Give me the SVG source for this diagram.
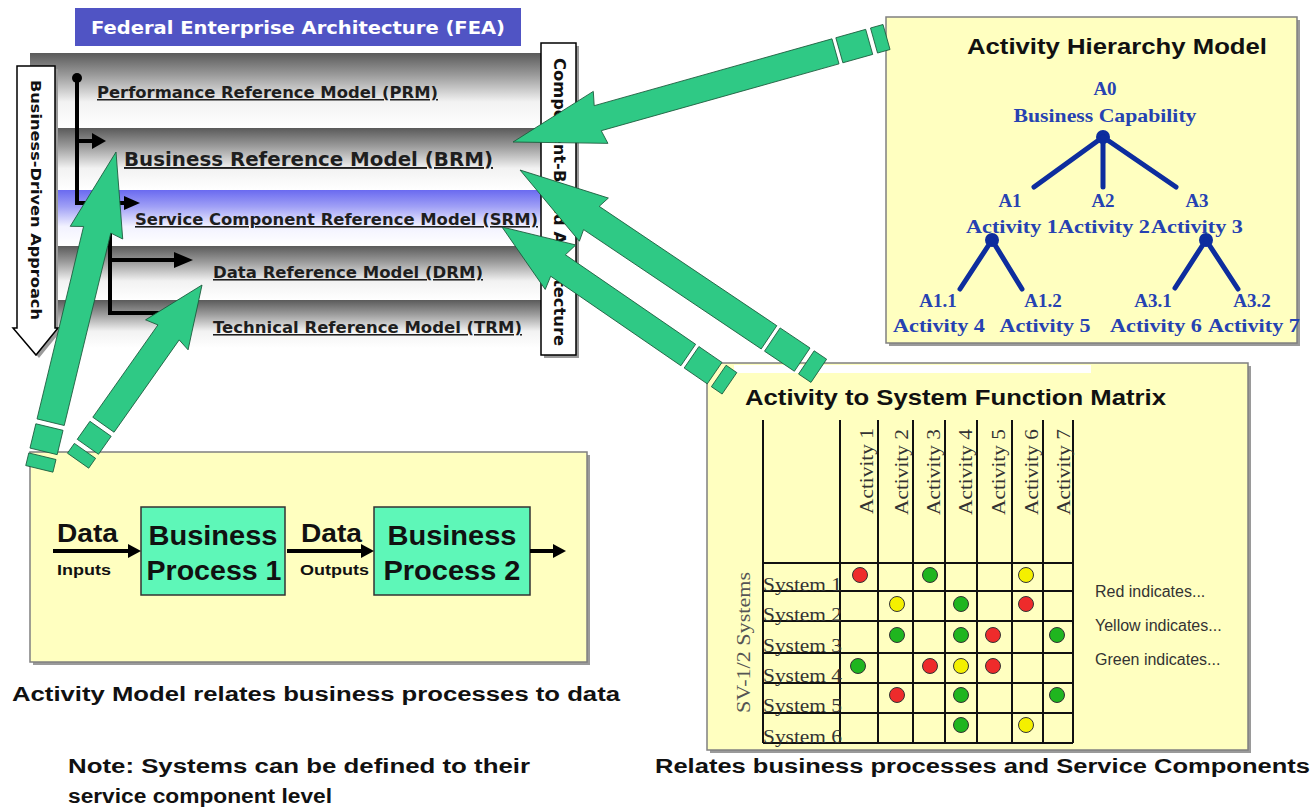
<svg xmlns="http://www.w3.org/2000/svg" width="1312" height="810" viewBox="0 0 1312 810">
<defs>
  <linearGradient id="gGray" x1="0" y1="0" x2="0" y2="1">
    <stop offset="0" stop-color="#5a5a5a"/>
    <stop offset="0.3" stop-color="#9c9c9c"/>
    <stop offset="0.65" stop-color="#f2f2f2"/>
    <stop offset="1" stop-color="#ffffff"/>
  </linearGradient>
  <linearGradient id="gBlue" x1="0" y1="0" x2="0" y2="1">
    <stop offset="0" stop-color="#6a6af0"/>
    <stop offset="0.3" stop-color="#a0a0f6"/>
    <stop offset="0.65" stop-color="#f2f2ff"/>
    <stop offset="1" stop-color="#ffffff"/>
  </linearGradient>
</defs>
<style>
  .lbl{font-family:"DejaVu Sans",Verdana,sans-serif;font-weight:bold;fill:#1e1e1e;text-decoration:underline}
  .vt{font-family:"DejaVu Sans",Verdana,sans-serif;font-weight:bold;fill:#111}
  .ab{font-family:"Liberation Sans",Arial,sans-serif;font-weight:bold;fill:#111}
  .tree{font-family:"Liberation Serif","Times New Roman",serif;font-weight:bold;fill:#2642b2;text-anchor:middle;font-size:19px}
  .ser{font-family:"Liberation Serif","Times New Roman",serif;fill:#333;font-size:18px}
  .leg{font-family:"Liberation Sans",Arial,sans-serif;fill:#333;font-size:16px}
  .grn{fill:#2fc985;stroke:#1b5a3c;stroke-width:0.8}
  .blk{stroke:#000;stroke-width:4;fill:none}
  .tl{stroke:#0d2d9e;stroke-width:5;stroke-linecap:round}
  .grid{stroke:#111;stroke-width:2;fill:none}
  .yel{fill:#ffffc0;stroke:#808080;stroke-width:1.5}
  .shd{fill:#9a9a9a}
  .bp{fill:#5ef7b8;stroke:#333;stroke-width:1.5}
  .dr{fill:#ee2b2b;stroke:#333;stroke-width:1}
  .dy{fill:#f4f000;stroke:#333;stroke-width:1}
  .dg{fill:#1fb51f;stroke:#333;stroke-width:1}
</style>
<rect width="1312" height="810" fill="#ffffff"/>

<!-- FEA stack -->
<g id="fea">
  <rect x="75" y="8" width="446" height="38" fill="#5054c4"/>
  <text class="vt" x="91" y="34" font-size="17" style="fill:#ffffff" textLength="414" lengthAdjust="spacingAndGlyphs">Federal Enterprise Architecture (FEA)</text>
  <rect x="30" y="53" width="512" height="75" fill="url(#gGray)"/>
  <rect x="30" y="128" width="512" height="62" fill="url(#gGray)"/>
  <rect x="30" y="190" width="512" height="56" fill="url(#gBlue)"/>
  <rect x="30" y="246" width="512" height="54" fill="url(#gGray)"/>
  <rect x="30" y="300" width="512" height="48" fill="url(#gGray)"/>
</g>
<g id="prm"><text class="lbl" x="97" y="98" font-size="15" textLength="341" lengthAdjust="spacingAndGlyphs">Performance Reference Model (PRM)</text></g>
<g id="brm"><text class="lbl" x="124" y="166" font-size="19" textLength="369" lengthAdjust="spacingAndGlyphs">Business Reference Model (BRM)</text></g>
<g id="srm"><text class="lbl" x="135" y="225" font-size="16" textLength="403" lengthAdjust="spacingAndGlyphs">Service Component Reference Model (SRM)</text></g>
<g id="drm"><text class="lbl" x="213" y="278" font-size="15.5" textLength="270" lengthAdjust="spacingAndGlyphs">Data Reference Model (DRM)</text></g>
<g id="trm"><text class="lbl" x="213" y="333" font-size="15.5" textLength="309" lengthAdjust="spacingAndGlyphs">Technical Reference Model (TRM)</text></g>

<g id="business-driven">
  <path d="M20,69 H58 V331 H61 L39,358 L16,331 H20 Z" class="shd"/>
  <path d="M17,66 H55 V328 H58 L36,355 L13,328 H17 Z" fill="#ffffff" stroke="#000" stroke-width="1.5"/>
  <text class="vt" transform="translate(31,80) rotate(90)" font-size="14.5" textLength="240" lengthAdjust="spacingAndGlyphs">Business-Driven Approach</text>
</g>
<g id="component-based">
  <rect x="544" y="46" width="35" height="312" class="shd"/>
  <rect x="541" y="43" width="35" height="312" fill="#ffffff" stroke="#000" stroke-width="1.5"/>
  <text class="vt" transform="translate(554,58) rotate(90)" font-size="15" textLength="288" lengthAdjust="spacingAndGlyphs">Component-Based Architecture</text>
</g>

<!-- Activity Hierarchy Model -->
<g id="hierarchy">
  <rect x="889" y="20" width="411" height="326" class="shd"/>
  <rect x="886" y="17" width="411" height="326" class="yel"/>
  <text class="ab" x="967" y="54" font-size="22" textLength="300" lengthAdjust="spacingAndGlyphs">Activity Hierarchy Model</text>
  <text class="tree" x="1105" y="95">A0</text>
  <text class="tree" x="1105" y="122" textLength="183" lengthAdjust="spacingAndGlyphs">Business Capability</text>
  <circle cx="1103" cy="137" r="7" fill="#0d2d9e"/>
  <line class="tl" x1="1103" y1="137" x2="1034" y2="187"/>
  <line class="tl" x1="1103" y1="137" x2="1103" y2="187"/>
  <line class="tl" x1="1103" y1="137" x2="1176" y2="187"/>
  <text class="tree" x="1010" y="207">A1</text>
  <text class="tree" x="1103" y="207">A2</text>
  <text class="tree" x="1197" y="207">A3</text>
  <text class="tree" x="1012" y="233" textLength="92" lengthAdjust="spacingAndGlyphs">Activity 1</text>
  <text class="tree" x="1104" y="233" textLength="92" lengthAdjust="spacingAndGlyphs">Activity 2</text>
  <text class="tree" x="1197" y="233" textLength="92" lengthAdjust="spacingAndGlyphs">Activity 3</text>
  <circle cx="992" cy="240" r="7" fill="#0d2d9e"/>
  <circle cx="1206" cy="240" r="7" fill="#0d2d9e"/>
  <line class="tl" x1="992" y1="240" x2="960" y2="289"/>
  <line class="tl" x1="992" y1="240" x2="1022" y2="289"/>
  <line class="tl" x1="1206" y1="240" x2="1175" y2="288"/>
  <line class="tl" x1="1206" y1="240" x2="1238" y2="289"/>
  <text class="tree" x="938" y="307">A1.1</text>
  <text class="tree" x="1043" y="307">A1.2</text>
  <text class="tree" x="1153" y="307">A3.1</text>
  <text class="tree" x="1252" y="307">A3.2</text>
  <text class="tree" x="939" y="332" textLength="92" lengthAdjust="spacingAndGlyphs">Activity 4</text>
  <text class="tree" x="1045" y="332" textLength="91" lengthAdjust="spacingAndGlyphs">Activity 5</text>
  <text class="tree" x="1156" y="332" textLength="92" lengthAdjust="spacingAndGlyphs">Activity 6</text>
  <text class="tree" x="1254" y="332" textLength="92" lengthAdjust="spacingAndGlyphs">Activity 7</text>
</g>

<!-- Activity to System Function Matrix -->
<g id="matrix">
  <rect x="710" y="366" width="541" height="387" class="shd"/>
  <rect x="707" y="363" width="541" height="387" class="yel"/>
  <rect x="734" y="365" width="357" height="8" fill="#ffffff"/>
  <text class="ab" x="745" y="405" font-size="22" textLength="421" lengthAdjust="spacingAndGlyphs">Activity to System Function Matrix</text>
  <path class="grid" d="M763,420V743 M840,420V743 M878,420V743 M913,420V743 M945,420V743 M977,420V743 M1012,420V743 M1043,420V743 M1073,420V743 M763,563H1073 M763,591H1073 M763,621H1073 M763,653H1073 M763,683H1073 M763,713H1073 M763,743H1073"/>
  <text class="ser" transform="translate(873,514) rotate(-90)" textLength="86" lengthAdjust="spacingAndGlyphs">Activity 1</text>
  <text class="ser" transform="translate(908,515) rotate(-90)" textLength="86" lengthAdjust="spacingAndGlyphs">Activity 2</text>
  <text class="ser" transform="translate(940,515) rotate(-90)" textLength="86" lengthAdjust="spacingAndGlyphs">Activity 3</text>
  <text class="ser" transform="translate(972,515) rotate(-90)" textLength="86" lengthAdjust="spacingAndGlyphs">Activity 4</text>
  <text class="ser" transform="translate(1005,515) rotate(-90)" textLength="86" lengthAdjust="spacingAndGlyphs">Activity 5</text>
  <text class="ser" transform="translate(1038,515) rotate(-90)" textLength="86" lengthAdjust="spacingAndGlyphs">Activity 6</text>
  <text class="ser" transform="translate(1070,515) rotate(-90)" textLength="86" lengthAdjust="spacingAndGlyphs">Activity 7</text>
  <text class="ser" transform="translate(750,713) rotate(-90)" style="fill:#555" textLength="141" lengthAdjust="spacingAndGlyphs">SV-1/2 Systems</text>
  <text class="ser" x="763" y="591" textLength="79" lengthAdjust="spacingAndGlyphs">System 1</text>
  <text class="ser" x="763" y="621" textLength="79" lengthAdjust="spacingAndGlyphs">System 2</text>
  <text class="ser" x="763" y="652" textLength="79" lengthAdjust="spacingAndGlyphs">System 3</text>
  <text class="ser" x="763" y="682" textLength="79" lengthAdjust="spacingAndGlyphs">System 4</text>
  <text class="ser" x="763" y="712" textLength="79" lengthAdjust="spacingAndGlyphs">System 5</text>
  <text class="ser" x="763" y="743" textLength="79" lengthAdjust="spacingAndGlyphs">System 6</text>
  <circle class="dr" cx="860" cy="575" r="7.5"/>
  <circle class="dg" cx="930" cy="575" r="7.5"/>
  <circle class="dy" cx="1026" cy="575" r="7.5"/>
  <circle class="dy" cx="897" cy="604" r="7.5"/>
  <circle class="dg" cx="961" cy="604" r="7.5"/>
  <circle class="dr" cx="1026" cy="604" r="7.5"/>
  <circle class="dg" cx="897" cy="635" r="7.5"/>
  <circle class="dg" cx="961" cy="635" r="7.5"/>
  <circle class="dr" cx="993" cy="635" r="7.5"/>
  <circle class="dg" cx="1057" cy="635" r="7.5"/>
  <circle class="dg" cx="858" cy="666" r="7.5"/>
  <circle class="dr" cx="930" cy="666" r="7.5"/>
  <circle class="dy" cx="961" cy="666" r="7.5"/>
  <circle class="dr" cx="993" cy="666" r="7.5"/>
  <circle class="dr" cx="897" cy="695" r="7.5"/>
  <circle class="dg" cx="961" cy="695" r="7.5"/>
  <circle class="dg" cx="1057" cy="695" r="7.5"/>
  <circle class="dg" cx="961" cy="725" r="7.5"/>
  <circle class="dy" cx="1026" cy="725" r="7.5"/>
  <text class="leg" x="1095" y="597">Red indicates...</text>
  <text class="leg" x="1095" y="631">Yellow indicates...</text>
  <text class="leg" x="1095" y="665">Green indicates...</text>
</g>

<!-- Activity Model -->
<g id="activity-model">
  <rect x="33" y="455" width="557" height="210" class="shd"/>
  <rect x="30" y="452" width="557" height="210" class="yel"/>
  <text class="ab" x="57" y="542" font-size="26" textLength="61" lengthAdjust="spacingAndGlyphs">Data</text>
  <text class="ab" x="57" y="575" font-size="15" textLength="54" lengthAdjust="spacingAndGlyphs">Inputs</text>
  <text class="ab" x="301" y="542" font-size="26" textLength="61" lengthAdjust="spacingAndGlyphs">Data</text>
  <text class="ab" x="300" y="575" font-size="15" textLength="69" lengthAdjust="spacingAndGlyphs">Outputs</text>
</g>
<g id="bp1">
  <rect x="141" y="507" width="144" height="88" class="bp"/>
  <text class="ab" x="213" y="545" font-size="28" text-anchor="middle" textLength="129" lengthAdjust="spacingAndGlyphs">Business</text>
  <text class="ab" x="214" y="580" font-size="28" text-anchor="middle" textLength="135" lengthAdjust="spacingAndGlyphs">Process 1</text>
</g>
<g id="bp2">
  <rect x="374" y="507" width="156" height="88" class="bp"/>
  <text class="ab" x="452" y="545" font-size="28" text-anchor="middle" textLength="129" lengthAdjust="spacingAndGlyphs">Business</text>
  <text class="ab" x="452" y="580" font-size="28" text-anchor="middle" textLength="137" lengthAdjust="spacingAndGlyphs">Process 2</text>
</g>

<!-- captions -->
<g id="captions">
  <text class="ab" x="12" y="701" font-size="20" textLength="608" lengthAdjust="spacingAndGlyphs">Activity Model relates business processes to data</text>
  <text class="ab" x="68" y="773" font-size="20" textLength="462" lengthAdjust="spacingAndGlyphs">Note: Systems can be defined to their</text>
  <text class="ab" x="68" y="803" font-size="20" textLength="264" lengthAdjust="spacingAndGlyphs">service component level</text>
  <text class="ab" x="655" y="773" font-size="20" textLength="655" lengthAdjust="spacingAndGlyphs">Relates business processes and Service Components</text>
</g>

<!-- connectors -->
<g id="connectors">
  <circle cx="77" cy="78" r="5" fill="#000"/>
  <path class="blk" d="M77,78 V203 H126 M77,141 H94 M110,230 V313 H185 M110,260 H176 M53,551 H130 M287,551 H364 M530,551 H556"/>
  <polygon points="92,133 106,141 92,149" fill="#000"/>
  <polygon points="124,196 140,203 124,210" fill="#000"/>
  <polygon points="174,252 193,260 174,268" fill="#000"/>
  <polygon points="128,544 141,551 128,558" fill="#000"/>
  <polygon points="361,544 374,551 361,558" fill="#000"/>
  <polygon points="553,544 566,551 553,558" fill="#000"/>
  <path class="grn" transform="translate(513,142) rotate(164.3)" d="M0,0 L-91,-27 L-88,-13 L-335,-13 L-335,13 L-88,13 L-91,27 Z M-339,-13 L-370,-13 L-370,13 L-339,13 Z M-375,-13 L-388,-13 L-388,13 L-375,13 Z"/>
  <path class="grn" transform="translate(520,170) rotate(-146.1)" d="M0,0 L-89,-26 L-86,-14 L-300,-14 L-300,14 L-86,14 L-89,26 Z M-304,-14 L-340,-14 L-340,14 L-304,14 Z M-345,-14 L-360,-14 L-360,14 L-345,14 Z"/>
  <path class="grn" transform="translate(502,227) rotate(-145.5)" d="M0,0 L-71,-27 L-68,-13 L-226,-13 L-226,13 L-68,13 L-71,27 Z M-230,-13 L-258,-13 L-258,13 L-230,13 Z M-263,-13 L-276,-13 L-276,13 L-263,13 Z"/>
  <path class="grn" transform="translate(116,152) rotate(-76.4)" d="M0,0 L-83,-27 L-80,-14 L-278,-14 L-278,14 L-80,14 L-83,27 Z M-283,-14 L-308,-14 L-308,14 L-283,14 Z M-313,-14 L-326,-14 L-326,14 L-313,14 Z"/>
  <path class="grn" transform="translate(202,285) rotate(-54.8)" d="M0,0 L-61,-26 L-58,-13 L-171,-13 L-171,13 L-58,13 L-61,26 Z M-176,-13 L-198,-13 L-198,13 L-176,13 Z M-203,-13 L-215,-13 L-215,13 L-203,13 Z"/>
</g>
</svg>
